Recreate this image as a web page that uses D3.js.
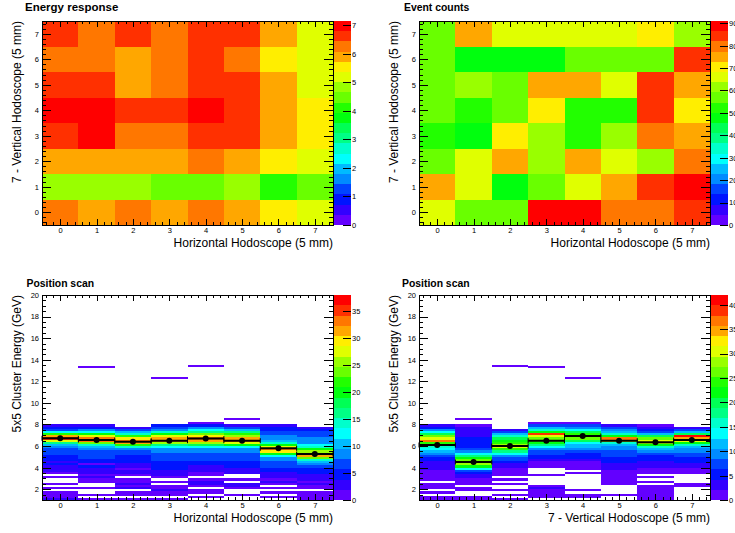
<!DOCTYPE html>
<html>
<head>
<meta charset="utf-8">
<script src="https://d3js.org/d3.v7.min.js"></script>
<style>
  body { margin: 0; background: #fff; }
  text { font-family: "Liberation Sans", Arial, sans-serif; }
</style>
</head>
<body>
<script>
// ---- data ----
var positions = [0, 1, 2, 3, 4, 5, 6, 7];

// energy response, one row per vertical index (row 0 = bottom)
var energyResponse = [
  [6.25, 5.9, 6.25, 5.9, 6.25, 5.9, 5.5, 5.2],
  [4.8, 4.8, 4.8, 4.5, 4.5, 4.8, 4.1, 4.5],
  [5.9, 5.9, 5.9, 5.9, 6.25, 5.9, 5.5, 5.2],
  [6.6, 7.0, 6.25, 6.25, 6.6, 6.6, 5.9, 5.5],
  [7.15, 7.0, 6.6, 6.6, 7.0, 6.6, 5.9, 5.5],
  [6.6, 6.6, 5.9, 6.25, 6.6, 6.6, 5.9, 5.2],
  [6.25, 6.25, 5.9, 6.25, 6.6, 6.25, 5.5, 5.2],
  [6.6, 6.25, 6.6, 6.25, 6.6, 6.6, 5.9, 5.2]
];

// event counts, same layout
var eventCounts = [
  [66, 57, 57, 91, 88, 79, 79, 84],
  [75, 66, 48, 57, 66, 75, 84, 88],
  [57, 66, 75, 61, 75, 66, 61, 79],
  [52, 48, 70, 61, 52, 61, 79, 75],
  [57, 52, 57, 70, 52, 52, 84, 70],
  [57, 61, 57, 75, 75, 66, 84, 75],
  [57, 48, 48, 48, 57, 57, 57, 84],
  [57, 75, 66, 66, 66, 66, 70, 61]
];

// energy histograms per column: bins of 0.2 GeV from 1.0 GeV upward
var binLow = 1.0, binWidth = 0.2;
var scanHorizontal = [
  [2,1,1,1,0, 1,0,1,0,0, 1,0,1,2,2, 3,4,3,4,4, 5,6,6,7,9, 11,17,27,36,32, 22,13,7,4,2, 0,0,0,0,0],
  [1,0,1,0,0, 1,0,0,1,1, 2,1,2,3,3, 4,1,5,5,6, 6,7,7,8,10, 15,24,33,34,27, 19,12,8,4,2, 0,0,0,0,0],
  [1,0,1,1,0, 2,1,2,1,1, 0,1,2,2,1, 3,3,4,4,5, 5,6,7,9,14, 22,31,34,29,22, 15,10,6,3,0, 0,0,0,0,0],
  [1,0,1,1,2, 1,1,0,1,0, 1,2,3,3,4, 4,5,5,6,6, 7,7,8,9,12, 17,26,33,32,27, 20,14,9,6,4, 0,0,0,0,0],
  [0,1,0,1,1, 0,1,3,3,1, 0,1,1,2,3, 3,4,5,6,6, 6,7,8,9,12, 18,25,31,34,29, 24,17,12,8,5, 1,0,0,0,0],
  [0,0,1,0,0, 1,2,2,0,1, 0,0,2,2,3, 4,5,5,6,6, 7,7,8,9,13, 19,27,33,31,26, 21,16,11,6,3, 0,0,1,0,0],
  [0,1,0,1,0, 1,0,1,2,1, 2,3,3,4,5, 6,6,7,8,9, 13,20,30,34,28, 20,14,11,9,8, 7,6,5,4,2, 0,0,0,0,0],
  [1,1,1,1,0, 1,1,2,1,2, 2,3,4,4,5, 6,8,11,15,23, 31,38,26,19,15, 12,9,8,8,7, 7,6,5,3,0, 0,0,0,0,0]
];
var scanVertical = [
  [1,1,0,1,0, 1,2,1,0,1, 2,1,1,2,3, 3,4,4,5,6, 7,9,11,13,15, 20,25,36,31,26, 19,14,9,5,3, 0,0,0,0,0],
  [2,1,0,0,1, 1,0,1,1,2, 3,4,5,8,14, 22,28,30,27,23, 18,13,9,7,6, 6,5,5,5,4, 4,4,3,3,2, 0,0,1,0,0],
  [1,0,1,0,1, 0,0,1,0,1, 0,1,2,1,2, 3,4,5,7,8, 10,13,18,24,30, 28,25,23,20,16, 12,8,4,0,0, 0,0,0,0,0],
  [0,1,2,2,2, 3,2,0,0,0, 0,1,0,0,0, 1,2,2,3,5, 6,7,8,10,13, 17,22,24,27,31, 39,22,16,12,8, 1,0,0,0,0],
  [0,1,1,0,1, 0,0,0,0,0, 0,0,1,0,1, 2,1,2,3,5, 5,6,7,9,11, 12,14,19,26,33, 25,19,14,10,7, 2,0,0,0,0],
  [0,0,1,0,0, 0,0,1,2,1, 1,2,2,2,3, 3,4,5,5,6, 7,7,8,9,10, 12,16,30,37,22, 15,11,9,7,3, 0,0,0,0,0],
  [1,2,1,2,1, 2,2,0,1,0, 1,0,1,2,1, 3,3,4,5,5, 6,7,9,11,16, 22,28,30,26,20, 12,8,6,4,2, 0,0,0,0,0],
  [0,0,0,0,0, 0,1,2,0,0, 0,0,1,2,2, 3,4,5,5,6, 7,8,9,10,12, 16,23,30,35,42, 20,11,8,4,0, 0,0,0,0,0]
];
// single high-energy entries [column, energy]
var outlierHorizontal = [[1, 13.2], [3, 12.2], [4, 13.3]];
var outlierVertical = [[2, 13.3], [3, 13.2], [4, 12.2]];

// profile means (GeV)
var meanHorizontal = [6.72, 6.56, 6.41, 6.5, 6.69, 6.5, 5.79, 5.26];
var meanVertical = [6.1, 4.52, 6.0, 6.5, 6.93, 6.5, 6.35, 6.56];

var zTicksEnergy = [0, 1, 2, 3, 4, 5, 6, 7];
var zTicksCounts = [0, 10, 20, 30, 40, 50, 60, 70, 80, 90];
var zTicksScanH = [0, 5, 10, 15, 20, 25, 30, 35];
var zTicksScanV = [0, 5, 10, 15, 20, 25, 30, 35, 40];
var yTicksScan = [2, 4, 6, 8, 10, 12, 14, 16, 18, 20];

// ---- drawing ----
var svg = d3.select("body").append("svg").attr("width", 735).attr("height", 533);

// ROOT "pretty" palette, 20 contour levels
var pal = d3.range(20).map(function (j) {
  var k = Math.floor((j + 0.99) * 50 / 20);
  return d3.hsl(280 - (k + 1) * 5.6, 1, 0.5).formatHex();
});
function level(v, max) { return Math.max(0, Math.min(19, Math.floor(v / max * 20))); }

function panel(p) {
  var g = svg.append("g");
  var x = d3.scaleLinear().domain([-0.5, 7.5]).range([p.left, p.right]);
  var y = d3.scaleLinear().domain(p.yDomain).range([p.bottom, p.top]);
  var z = d3.scaleLinear().domain([0, p.zMax]).range([p.bottom, p.top]);

  var cells = g.append("g").attr("shape-rendering", "crispEdges");
  if (p.grid) {
    p.grid.forEach(function (row, iy) {
      row.forEach(function (v, ix) {
        cells.append("rect")
          .attr("x", x(ix - 0.5)).attr("width", x(ix + 0.5) - x(ix - 0.5))
          .attr("y", y(iy + 0.5)).attr("height", y(iy - 0.5) - y(iy + 0.5))
          .attr("fill", pal[level(v, p.zMax)]);
      });
    });
  }
  if (p.hist) {
    p.hist.forEach(function (col, ix) {
      col.forEach(function (v, ib) {
        if (v <= 0) return;
        var lo = binLow + ib * binWidth, hi = lo + binWidth;
        cells.append("rect")
          .attr("x", x(ix - 0.5)).attr("width", x(ix + 0.5) - x(ix - 0.5))
          .attr("y", y(hi)).attr("height", y(lo) - y(hi))
          .attr("fill", pal[level(v, p.zMax)]);
      });
    });
    p.outliers.forEach(function (o) {
      cells.append("rect")
        .attr("x", x(o[0] - 0.5)).attr("width", x(o[0] + 0.5) - x(o[0] - 0.5))
        .attr("y", y(o[1] + binWidth)).attr("height", y(o[1]) - y(o[1] + binWidth))
        .attr("fill", pal[level(1, p.zMax)]);
    });
    // profile
    var prof = g.append("g");
    p.means.forEach(function (m, ix) {
      prof.append("line").attr("x1", x(ix - 0.5)).attr("x2", x(ix + 0.5))
        .attr("y1", y(m)).attr("y2", y(m)).attr("stroke", "#000").attr("stroke-width", 2);
      [ix - 0.5, ix + 0.5].forEach(function (e) {
        prof.append("line").attr("x1", x(e)).attr("x2", x(e))
          .attr("y1", y(m) - 2.5).attr("y2", y(m) + 2.5).attr("stroke", "#000").attr("stroke-width", 1);
      });
      prof.append("circle").attr("cx", x(ix)).attr("cy", y(m)).attr("r", 3).attr("fill", "#000");
    });
  }

  // palette
  var pl = p.right + 1, pw = 16.5;
  var palG = g.append("g").attr("shape-rendering", "crispEdges");
  pal.forEach(function (c, j) {
    palG.append("rect").attr("x", pl).attr("width", pw)
      .attr("y", z((j + 1) * p.zMax / 20)).attr("height", z(j * p.zMax / 20) - z((j + 1) * p.zMax / 20))
      .attr("fill", c);
  });
  var za = g.append("g").attr("transform", "translate(" + (pl + pw) + ",0)")
    .call(d3.axisRight(z).tickValues(p.zTicks).tickSize(-8).tickPadding(1.5).tickFormat(d3.format("d")));

  // frame axes
  var xMinor = d3.range(-0.4, 7.45, 0.2).filter(function (d) { return Math.abs(d - Math.round(d)) > 0.01; });
  var yMinor = p.yMinor;
  var tx = 6, ty = 8.7;
  var axes = [
    g.append("g").attr("transform", "translate(0," + p.bottom + ")")
      .call(d3.axisBottom(x).tickValues(positions).tickSize(-tx).tickPadding(3).tickFormat(d3.format("d"))),
    g.append("g").attr("transform", "translate(0," + p.bottom + ")")
      .call(d3.axisBottom(x).tickValues(xMinor).tickSize(-tx / 2).tickFormat("")),
    g.append("g").attr("transform", "translate(0," + p.top + ")")
      .call(d3.axisTop(x).tickValues(positions).tickSize(-tx).tickFormat("")),
    g.append("g").attr("transform", "translate(0," + p.top + ")")
      .call(d3.axisTop(x).tickValues(xMinor).tickSize(-tx / 2).tickFormat("")),
    g.append("g").attr("transform", "translate(" + p.left + ",0)")
      .call(d3.axisLeft(y).tickValues(p.yMajor).tickSize(-ty).tickPadding(3).tickFormat(d3.format("d"))),
    g.append("g").attr("transform", "translate(" + p.left + ",0)")
      .call(d3.axisLeft(y).tickValues(yMinor).tickSize(-ty / 2).tickFormat("")),
    g.append("g").attr("transform", "translate(" + p.right + ",0)")
      .call(d3.axisRight(y).tickValues(p.yMajor).tickSize(-ty).tickFormat("")),
    g.append("g").attr("transform", "translate(" + p.right + ",0)")
      .call(d3.axisRight(y).tickValues(yMinor).tickSize(-ty / 2).tickFormat("")),
    za
  ];
  axes.forEach(function (a) {
    a.select(".domain").remove();
    a.selectAll("line").attr("stroke", "#000").attr("shape-rendering", "crispEdges");
    a.selectAll("text").attr("font-size", 7.5).attr("fill", "#000")
      .style("font-family", "'Liberation Sans', Arial, sans-serif");
  });

  g.append("rect").attr("x", p.left).attr("y", p.top)
    .attr("width", p.right - p.left).attr("height", p.bottom - p.top)
    .attr("fill", "none").attr("stroke", "#000").attr("shape-rendering", "crispEdges");

  // titles
  g.append("text").attr("x", p.titleX).attr("y", p.titleY)
    .attr("font-size", p.titleSize).attr("font-weight", "bold").text(p.title);
  g.append("text").attr("x", p.right).attr("y", p.bottom + 21.5)
    .attr("text-anchor", "end").attr("font-size", 12).text(p.xTitle);
  g.append("text").attr("transform", "translate(" + (p.left - 21.5) + "," + p.top + ") rotate(-90)")
    .attr("text-anchor", "end").attr("font-size", 12).text(p.yTitle);
}

var gridMinor = d3.range(-0.4, 7.45, 0.2).filter(function (d) { return Math.abs(d - Math.round(d)) > 0.01; });
var scanMinor = d3.range(1.5, 20, 0.5).filter(function (d) { return d % 2 !== 0; });

panel({
  left: 42, right: 333, top: 21, bottom: 225,
  grid: energyResponse, zMax: d3.max(energyResponse.flat()), zTicks: zTicksEnergy,
  yDomain: [-0.5, 7.5], yMajor: positions, yMinor: gridMinor,
  title: "Energy response", titleX: 25, titleY: 11, titleSize: 11.5,
  xTitle: "Horizontal Hodoscope (5 mm)", yTitle: "7 - Vertical Hodoscope (5 mm)"
});
panel({
  left: 419, right: 710, top: 21, bottom: 225,
  grid: eventCounts, zMax: d3.max(eventCounts.flat()), zTicks: zTicksCounts,
  yDomain: [-0.5, 7.5], yMajor: positions, yMinor: gridMinor,
  title: "Event counts", titleX: 404, titleY: 11, titleSize: 10.4,
  xTitle: "Horizontal Hodoscope (5 mm)", yTitle: "7 - Vertical Hodoscope (5 mm)"
});
panel({
  left: 42, right: 333, top: 295, bottom: 500,
  hist: scanHorizontal, outliers: outlierHorizontal, means: meanHorizontal,
  zMax: d3.max(scanHorizontal.flat()), zTicks: zTicksScanH,
  yDomain: [1, 20], yMajor: yTicksScan, yMinor: scanMinor,
  title: "Position scan", titleX: 26.5, titleY: 287, titleSize: 10.4,
  xTitle: "Horizontal Hodoscope (5 mm)", yTitle: "5x5 Cluster Energy (GeV)"
});
panel({
  left: 419, right: 710, top: 295, bottom: 500,
  hist: scanVertical, outliers: outlierVertical, means: meanVertical,
  zMax: d3.max(scanVertical.flat()), zTicks: zTicksScanV,
  yDomain: [1, 20], yMajor: yTicksScan, yMinor: scanMinor,
  title: "Position scan", titleX: 402, titleY: 287, titleSize: 10.4,
  xTitle: "7 - Vertical Hodoscope (5 mm)", yTitle: "5x5 Cluster Energy (GeV)"
});
</script>
</body>
</html>
